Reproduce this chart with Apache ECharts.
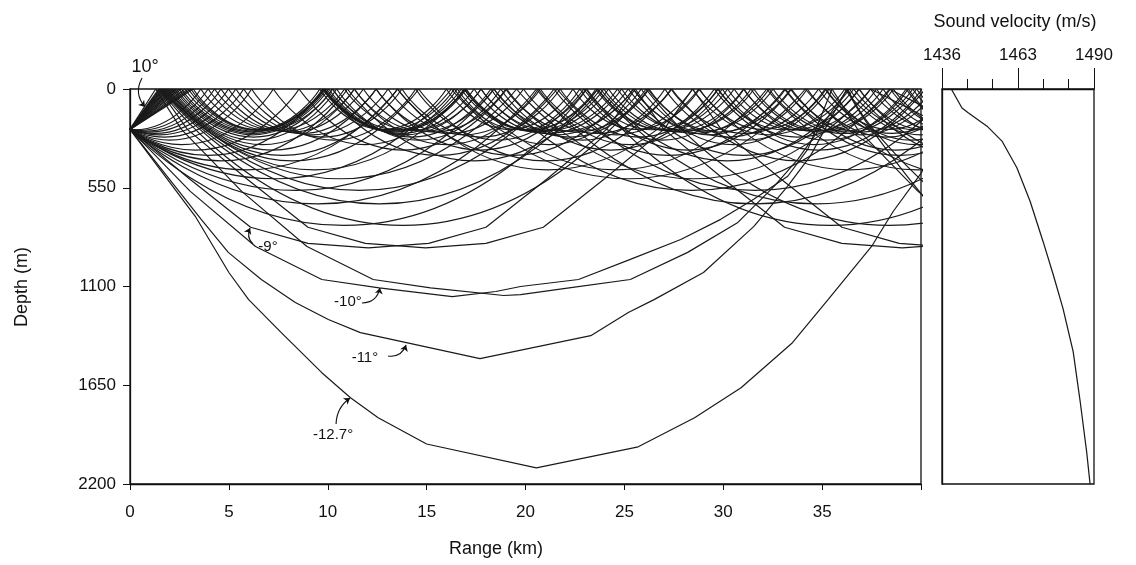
<!DOCTYPE html>
<html>
<head>
<meta charset="utf-8">
<script src="https://cdn.jsdelivr.net/npm/echarts@6/dist/echarts.min.js"></script>
<style>
  html, body { margin: 0; padding: 0; background: #fff; }
  #chart { width: 1136px; height: 565px; }
</style>
</head>
<body>
<div id="chart"></div>
<script>
// ---- axis ticks ----
const rangeTicks = [0, 5, 10, 15, 20, 25, 30, 35];          // km
const depthTicks = [0, 550, 1100, 1650, 2200];              // m
const velocityTicks = [1436, 1463, 1490];                   // m/s

// ---- sound-velocity profile: [velocity m/s, depth m] ----
const soundProfile = [
  [1439.3, 0], [1443.1, 106], [1445.3, 132], [1452.0, 207], [1457.3, 290],
  [1462.6, 439], [1467.3, 625], [1471.9, 849], [1475.5, 1033], [1479.0, 1223],
  [1482.6, 1463], [1485.1, 1742], [1487.4, 2022], [1488.6, 2200]
];

// ---- ray paths from the source: [range km, depth m]; depth 0 = surface bounce ----
// upward launch angles
const rayUp10 = [[0,225],[1.3,0],[2.6,225],[5.65,570],[8.95,877],[12.3,1061],[15.2,1108],[18.9,1150],[19.75,1145],[22.3,1106],[25.3,1061],[28.2,910],[30.74,743],[32.57,542],[33.78,391],[36.3,0],[37.6,225],[40.65,570]];
const rayUp9  = [[0,225],[1.45,0],[2.9,225],[5.9,500],[9.0,770],[11.9,860],[14.95,885],[18.0,860],[20.9,770],[24.0,500],[27.0,225],[28.45,0],[29.9,225],[32.9,500],[36.0,770],[38.9,860],[41.95,885]];
const rayUp85 = [[0,225],[1.5,0],[13.8,760],[26.1,0],[38.4,760],[50.7,0]];
const rayUp8  = [[0,225],[1.55,0],[12.6,640],[23.65,0],[34.7,640],[45.75,0]];
const rayUp75 = [[0,225],[1.6,0],[11.6,565],[21.6,0],[31.6,565],[41.6,0]];
const rayUp7  = [[0,225],[1.65,0],[10.6,500],[19.55,0],[28.5,500],[37.45,0],[46.4,500]];
const rayUp65 = [[0,225],[1.72,0],[9.34,450],[16.96,0],[24.58,450],[32.2,0],[39.82,450],[47.44,0]];
const rayUp6  = [[0,225],[1.8,0],[8.2,400],[14.6,0],[21,400],[27.4,0],[33.8,400],[40.2,0]];
const rayUp55 = [[0,225],[1.88,0],[7.71,370],[13.54,0],[19.37,370],[25.2,0],[31.03,370],[36.86,0],[42.69,370],[48.52,0]];
const rayUp5  = [[0,225],[1.95,0],[7.2,340],[12.45,0],[17.7,340],[22.95,0],[28.2,340],[33.45,0],[38.7,340],[43.95,0]];
const rayUp45 = [[0,225],[2.05,0],[6.7,310],[11.35,0],[16.0,310],[20.65,0],[25.3,310],[29.95,0],[34.6,310],[39.25,0],[43.9,310],[48.55,0]];
const rayUp4  = [[0,225],[2.15,0],[6.3,285],[10.45,0],[14.6,285],[18.75,0],[22.9,285],[27.05,0],[31.2,285],[35.35,0],[39.5,285],[43.65,0]];
const rayUp35 = [[0,225],[2.25,0],[6.25,268],[10.25,0],[14.25,268],[18.25,0],[22.25,268],[26.25,0],[30.25,268],[34.25,0],[38.25,268],[42.25,0]];
const rayUp3  = [[0,225],[2.35,0],[6.2,255],[10.05,0],[13.9,255],[17.75,0],[21.6,255],[25.45,0],[29.3,255],[33.15,0],[37,255],[40.85,0]];
const rayUp25 = [[0,225],[2.48,0],[6.21,247],[9.94,0],[13.67,247],[17.4,0],[21.13,247],[24.86,0],[28.59,247],[32.32,0],[36.05,247],[39.78,0],[43.51,247],[47.24,0]];
const rayUp2  = [[0,225],[2.6,0],[6.2,240],[9.8,0],[13.4,240],[17,0],[20.6,240],[24.2,0],[27.8,240],[31.4,0],[35,240],[38.6,0],[42.2,240],[45.8,0]];
const rayUp15 = [[0,225],[2.78,0],[6.31,235],[9.84,0],[13.37,235],[16.9,0],[20.43,235],[23.96,0],[27.49,235],[31.02,0],[34.55,235],[38.08,0],[41.61,235],[45.14,0]];
const rayUp1  = [[0,225],[2.95,0],[6.4,230],[9.85,0],[13.3,230],[16.75,0],[20.2,230],[23.65,0],[27.1,230],[30.55,0],[34,230],[37.45,0],[40.9,230],[44.35,0]];
const rayUp05 = [[0,225],[3.08,0],[6.41,227],[9.74,0],[13.07,227],[16.4,0],[19.73,227],[23.06,0],[26.39,227],[29.72,0],[33.05,227],[36.38,0],[39.71,227],[43.04,0]];
// horizontal launch
const rayFlat = [[0,225],[3.2,0],[6.4,225],[9.6,0],[12.8,225],[16,0],[19.2,225],[22.4,0],[25.6,225],[28.8,0],[32,225],[35.2,0],[38.4,225],[41.6,0]];
// downward launch angles
const rayDown05 = [[0,225],[0.25,227],[3.58,0],[6.91,227],[10.24,0],[13.57,227],[16.9,0],[20.23,227],[23.56,0],[26.89,227],[30.22,0],[33.55,227],[36.88,0],[40.21,227],[43.54,0]];
const rayDown1  = [[0,225],[0.5,230],[3.95,0],[7.4,230],[10.85,0],[14.3,230],[17.75,0],[21.2,230],[24.65,0],[28.1,230],[31.55,0],[35,230],[38.45,0],[41.9,230],[45.35,0]];
const rayDown15 = [[0,225],[0.75,235],[4.28,0],[7.81,235],[11.34,0],[14.87,235],[18.4,0],[21.93,235],[25.46,0],[28.99,235],[32.52,0],[36.05,235],[39.58,0],[43.11,235],[46.64,0]];
const rayDown2  = [[0,225],[1,240],[4.6,0],[8.2,240],[11.8,0],[15.4,240],[19,0],[22.6,240],[26.2,0],[29.8,240],[33.4,0],[37,240],[40.6,0]];
const rayDown25 = [[0,225],[1.25,247],[4.98,0],[8.71,247],[12.44,0],[16.17,247],[19.9,0],[23.63,247],[27.36,0],[31.09,247],[34.82,0],[38.55,247],[42.28,0]];
const rayDown3  = [[0,225],[1.5,255],[5.35,0],[9.2,255],[13.05,0],[16.9,255],[20.75,0],[24.6,255],[28.45,0],[32.3,255],[36.15,0],[40,255],[43.85,0]];
const rayDown35 = [[0,225],[1.75,268],[5.75,0],[9.75,268],[13.75,0],[17.75,268],[21.75,0],[25.75,268],[29.75,0],[33.75,268],[37.75,0],[41.75,268],[45.75,0]];
const rayDown4  = [[0,225],[2,285],[6.15,0],[10.3,285],[14.45,0],[18.6,285],[22.75,0],[26.9,285],[31.05,0],[35.2,285],[39.35,0],[43.5,285],[47.65,0]];
const rayDown45 = [[0,225],[2.6,310],[7.25,0],[11.9,310],[16.55,0],[21.2,310],[25.85,0],[30.5,310],[35.15,0],[39.8,310],[44.45,0]];
const rayDown5  = [[0,225],[3.3,340],[8.55,0],[13.8,340],[19.05,0],[24.3,340],[29.55,0],[34.8,340],[40.05,0]];
const rayDown55 = [[0,225],[3.95,370],[9.78,0],[15.61,370],[21.44,0],[27.27,370],[33.1,0],[38.93,370],[44.76,0]];
const rayDown6  = [[0,225],[4.6,400],[11,0],[17.4,400],[23.8,0],[30.2,400],[36.6,0],[43,400],[49.4,0]];
const rayDown65 = [[0,225],[5.9,450],[13.52,0],[21.14,450],[28.76,0],[36.38,450],[44.0,0]];
const rayDown7  = [[0,225],[7.3,500],[16.25,0],[25.2,500],[34.15,0],[43.1,500],[52.05,0]];
const rayDown75 = [[0,225],[8.4,565],[18.4,0],[28.4,565],[38.4,0],[48.4,565]];
const rayDown8  = [[0,225],[9.5,640],[20.55,0],[31.6,640],[42.65,0]];
const rayDown85 = [[0,225],[10.8,760],[23.1,0],[35.4,760],[47.7,0]];
const rayDown9  = [[0,225],[3.0,500],[6.1,770],[9.0,860],[12.05,885],[15.1,860],[18.0,770],[21.1,500],[24.1,225],[25.55,0],[27.0,225],[30.0,500],[33.1,770],[36.0,860],[39.05,885],[42.1,860]];
const rayDown10 = [[0,225],[3.05,570],[6.35,877],[9.7,1061],[12.6,1108],[16.3,1156],[18.5,1128],[19.75,1100],[22.68,1061],[25.3,949],[27.85,838],[29.87,726],[31.54,614],[33.26,486],[34.28,335],[35.5,0],[36.8,225],[39.85,570],[43.15,877]];
const rayDown11 = [[0,225],[3.6,726],[4.97,910],[6.64,1061],[8.36,1189],[10.03,1284],[11.65,1357],[17.7,1502],[23.3,1374],[25.2,1245],[26.5,1173],[29.0,1022],[31.55,765],[33.25,542],[34.4,374],[36.25,0],[37.5,225],[41.1,726]];
const rayDown127 = [[0,225],[3.3,709],[5.0,1022],[6.0,1173],[7.65,1357],[9.7,1580],[11.15,1720],[12.55,1831],[15.0,1977],[20.55,2110],[25.7,1993],[28.55,1831],[30.9,1664],[33.5,1413],[35.3,1173],[37.5,877],[38.6,681],[40,470],[41.2,225]];

// launch-angle callouts: text, anchor [km, m], arrow from/to [km, m]
const angleNotes = [
  { text: '10°',    at: [0.76, -122],  from: [0.61, -61],   to: [0.76, 100] },
  { text: '-9°',    at: [6.98, 880],   from: [6.22, 863],   to: [6.07, 774] },
  { text: '-10°',   at: [11.02, 1186], from: [11.73, 1192], to: [12.64, 1108] },
  { text: '-11°',   at: [11.88, 1498], from: [13.05, 1487], to: [13.96, 1426] },
  { text: '-12.7°', at: [10.27, 1927], from: [10.42, 1866], to: [11.13, 1721] }
];
const arrowBend = [-0.35, 0.35, -0.4, -0.4, 0.25];
const noteFontSize = [18, 15, 15, 15, 15];

const rayPaths = [
  rayUp10, rayUp9, rayUp85, rayUp8, rayUp75, rayUp7, rayUp65, rayUp6, rayUp55, rayUp5,
  rayUp45, rayUp4, rayUp35, rayUp3, rayUp25, rayUp2, rayUp15, rayUp1, rayUp05,
  rayFlat,
  rayDown05, rayDown1, rayDown15, rayDown2, rayDown25, rayDown3, rayDown35, rayDown4,
  rayDown45, rayDown5, rayDown55, rayDown6, rayDown65, rayDown7, rayDown75, rayDown8, rayDown85,
  rayDown9, rayDown10, rayDown11, rayDown127
];

const INK = '#111111';
const FONT = '"Liberation Sans", Arial, Helvetica, sans-serif';

// split a path at its surface bounces so each arc is drawn on its own
function splitArcs(path) {
  const arcs = [];
  let cur = [path[0]];
  for (let i = 1; i < path.length; i++) {
    cur.push(path[i]);
    if (path[i][1] === 0 && i < path.length - 1) {
      arcs.push(cur);
      cur = [path[i]];
    }
  }
  if (cur.length > 1) arcs.push(cur);
  return arcs;
}

const series = [];
rayPaths.forEach(function (path) {
  splitArcs(path).forEach(function (arc) {
    series.push({
      type: 'line', xAxisIndex: 0, yAxisIndex: 0,
      data: arc,
      smooth: arc.length === 3 ? 0.6 : false,
      symbol: 'none', silent: true, z: 2,
      lineStyle: { color: '#1a1a1a', width: 1.2 }
    });
  });
});

// velocity profile (x measured from the first tick value)
const vBase = velocityTicks[0];
series.push({
  type: 'line', xAxisIndex: 1, yAxisIndex: 1,
  data: soundProfile.map(function (p) { return [p[0] - vBase, p[1]]; }),
  symbol: 'none', silent: true,
  lineStyle: { color: '#1a1a1a', width: 1.25 }
});

// callout texts
series.push({
  type: 'scatter', xAxisIndex: 0, yAxisIndex: 0, clip: false, silent: true,
  symbolSize: 0,
  itemStyle: { opacity: 1 },
  data: angleNotes.map(function (n, i) {
    return { value: [n.at[0], n.at[1], n.text], label: { fontSize: noteFontSize[i] } };
  }),
  label: {
    show: true, position: 'inside', color: INK, fontFamily: FONT, opacity: 1,
    formatter: function (p) { return p.value[2]; }
  },
  z: 5
});

// callout arrows
angleNotes.forEach(function (n, i) {
  series.push({
    type: 'lines', coordinateSystem: 'cartesian2d', xAxisIndex: 0, yAxisIndex: 0,
    clip: false, silent: true, z: 5,
    symbol: ['none', 'arrow'], symbolSize: 6,
    lineStyle: { color: INK, width: 1.1, curveness: arrowBend[i], opacity: 1 },
    data: [{ coords: [n.from, n.to] }]
  });
});

const option = {
  animation: false,
  backgroundColor: '#ffffff',
  textStyle: { fontFamily: FONT },
  grid: [
    { left: 130, top: 89, width: 791, height: 395, show: true, borderColor: INK, borderWidth: 1.3 },
    { left: 942, top: 89, width: 152, height: 395, show: true, borderColor: INK, borderWidth: 1.3 }
  ],
  xAxis: [
    {
      gridIndex: 0, type: 'value', min: 0, max: 40, interval: 5, position: 'bottom',
      axisLine: { show: true, onZero: false, lineStyle: { color: INK, width: 1.3 } },
      axisTick: { show: true, length: 6, lineStyle: { color: INK } },
      axisLabel: {
        color: INK, fontSize: 17, fontFamily: FONT, margin: 20,
        formatter: function (v) { return rangeTicks.indexOf(v) >= 0 ? String(v) : ''; }
      },
      splitLine: { show: false }
    },
    {
      gridIndex: 1, type: 'value', min: 0, max: velocityTicks[2] - vBase, interval: 9, position: 'top',
      axisLine: { show: true, onZero: false, lineStyle: { color: INK, width: 1.3 } },
      axisTick: { show: true, length: 10, lineStyle: { color: INK } },
      axisLabel: { show: false },
      splitLine: { show: false }
    },
    {
      gridIndex: 1, type: 'value', min: 0, max: velocityTicks[2] - vBase, interval: 27, position: 'top',
      axisLine: { show: false },
      axisTick: { show: true, length: 21, lineStyle: { color: INK } },
      axisLabel: {
        color: INK, fontSize: 17, fontFamily: FONT, margin: 25,
        formatter: function (v) { return velocityTicks.indexOf(v + vBase) >= 0 ? String(v + vBase) : ''; }
      },
      splitLine: { show: false }
    }
  ],
  yAxis: [
    {
      gridIndex: 0, type: 'value', inverse: true, min: 0, max: 2200, interval: 550,
      axisLine: { show: true, onZero: false, lineStyle: { color: INK, width: 1.3 } },
      axisTick: { show: true, length: 7, lineStyle: { color: INK } },
      axisLabel: {
        color: INK, fontSize: 17, fontFamily: FONT, margin: 14,
        formatter: function (v) { return depthTicks.indexOf(v) >= 0 ? String(v) : ''; }
      },
      splitLine: { show: false }
    },
    {
      gridIndex: 1, type: 'value', inverse: true, min: 0, max: 2200, interval: 550,
      axisLine: { show: true, onZero: false, lineStyle: { color: INK, width: 1.3 } },
      axisTick: { show: false }, axisLabel: { show: false }, splitLine: { show: false }
    }
  ],
  graphic: [
    { type: 'text', x: 22, y: 287, rotation: Math.PI / 2,
      style: { text: 'Depth (m)', font: '18px ' + FONT, fill: INK, textAlign: 'center', textVerticalAlign: 'middle' } },
    { type: 'text', x: 496, y: 549,
      style: { text: 'Range (km)', font: '18px ' + FONT, fill: INK, textAlign: 'center', textVerticalAlign: 'middle' } },
    { type: 'text', x: 1015, y: 22,
      style: { text: 'Sound velocity (m/s)', font: '18px ' + FONT, fill: INK, textAlign: 'center', textVerticalAlign: 'middle' } }
  ],
  series: series
};

const chart = echarts.init(document.getElementById('chart'));
chart.setOption(option);
</script>
</body>
</html>
